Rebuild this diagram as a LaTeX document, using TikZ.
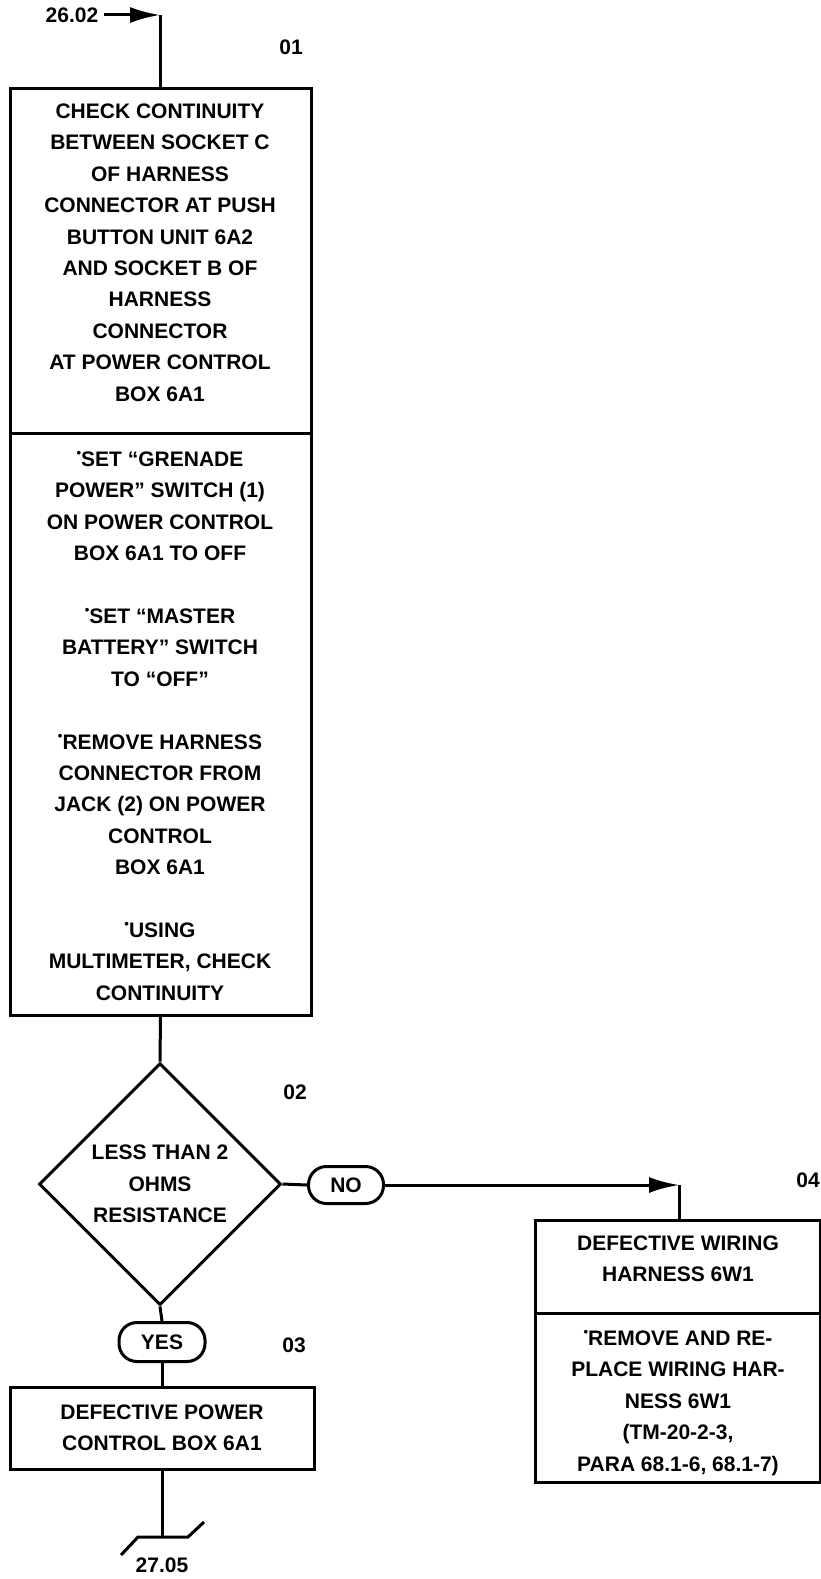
\documentclass[tikz,border=0pt]{standalone}
\usepackage{fontspec}
\setmainfont{Liberation Sans}
\usetikzlibrary{shapes.geometric,arrows.meta}
\newcommand\mybul{\raisebox{0.42em}{\fontsize{13}{13}\selectfont •}}
\begin{document}
\begin{tikzpicture}[x=1pt,y=-1pt,
  every node/.style={font=\bfseries\fontsize{21}{31.4}\selectfont, inner sep=0pt},
  ln/.style={line width=3pt},
  boxn/.style={draw, line width=3pt},
  txt/.style={align=center},
  oval/.style={draw, line width=3pt, rounded corners=18pt},
  tip/.style={-{Latex[length=30pt,width=16pt]}}
]
\useasboundingbox (0,0) rectangle (821,1579);

% entry
\node (t2602) at (72,15) {26.02};
\coordinate (c1) at (160,15);

% box 01
\node[boxn, minimum width=301pt, minimum height=345pt] (b1a) at (160.5,260.5) {};
\node[boxn, minimum width=301pt, minimum height=582pt] (b1b) at (160.5,724) {};
\node[txt] (t1a) at (160,252.5) {CHECK CONTINUITY\\BETWEEN SOCKET C\\OF HARNESS\\CONNECTOR AT PUSH\\BUTTON UNIT 6A2\\AND SOCKET B OF\\HARNESS\\CONNECTOR\\AT POWER CONTROL\\BOX 6A1};
\node[txt] (t1b) at (160,726) {\mybul SET “GRENADE\\POWER” SWITCH (1)\\ON POWER CONTROL\\BOX 6A1 TO OFF\\[31.4pt]
\mybul SET “MASTER\\BATTERY” SWITCH\\TO “OFF”\\[31.4pt]
\mybul REMOVE HARNESS\\CONNECTOR FROM\\JACK (2) ON POWER\\CONTROL\\BOX 6A1\\[31.4pt]
\mybul USING\\MULTIMETER, CHECK\\CONTINUITY};

% decision 02
\node[draw, diamond, ln, minimum width=242pt, minimum height=242pt, align=center] (d) at (160,1184) {LESS THAN 2\\OHMS\\RESISTANCE};
\node[oval, minimum width=75pt, minimum height=37pt] (no) at (346,1185) {NO};
\node[oval, minimum width=86pt, minimum height=39pt] (yes) at (162,1342) {YES};

% box 03
\node[boxn, minimum width=304pt, minimum height=82pt, align=center] (b3) at (162,1428) {DEFECTIVE POWER\\CONTROL BOX 6A1};

% box 04
\node[boxn, minimum width=285pt, minimum height=93pt] (b4a) at (677.5,1266.5) {};
\node[boxn, minimum width=285pt, minimum height=169pt] (b4b) at (677.5,1397.5) {};
\node[txt] (t4a) at (678,1258.5) {DEFECTIVE WIRING\\HARNESS 6W1};
\node[txt] (t4b) at (678,1403) {\mybul REMOVE AND RE-\\PLACE WIRING HAR-\\NESS 6W1\\(TM-20-2-3,\\PARA 68.1-6, 68.1-7)};
\coordinate (c4) at (679,1185);

% step labels
\node (l01) at (291,47) {01};
\node (l02) at (295,1092) {02};
\node (l03) at (294,1345) {03};
\node (l04) at (808,1180) {04};

% exit
\coordinate (c5) at (162,1537);
\coordinate (c5l) at (138,1537);
\coordinate (c5r) at (188,1537);
\coordinate (c5a) at (121,1555);
\coordinate (c5b) at (204,1522);
\node (t2705) at (162,1565) {27.05};

% connectors
\draw[ln, tip] ([xshift=6pt]t2602.east) -- (c1);
\draw[ln] (c1) -- (c1 |- b1a.north);
\draw[ln] (b1b.south) -- (d.north);
\draw[ln] (d.east) -- (no.west);
\draw[ln, tip] (no.east) -- (c4);
\draw[ln] (c4) -- (c4 |- b4a.north);
\draw[ln] (d.south) -- (yes.north);
\draw[ln] (yes.south) -- (b3.north);
\draw[ln] (b3.south) -- (c5);
\draw[ln] (c5a) -- (c5l) -- (c5r) -- (c5b);
\end{tikzpicture}
\end{document}
